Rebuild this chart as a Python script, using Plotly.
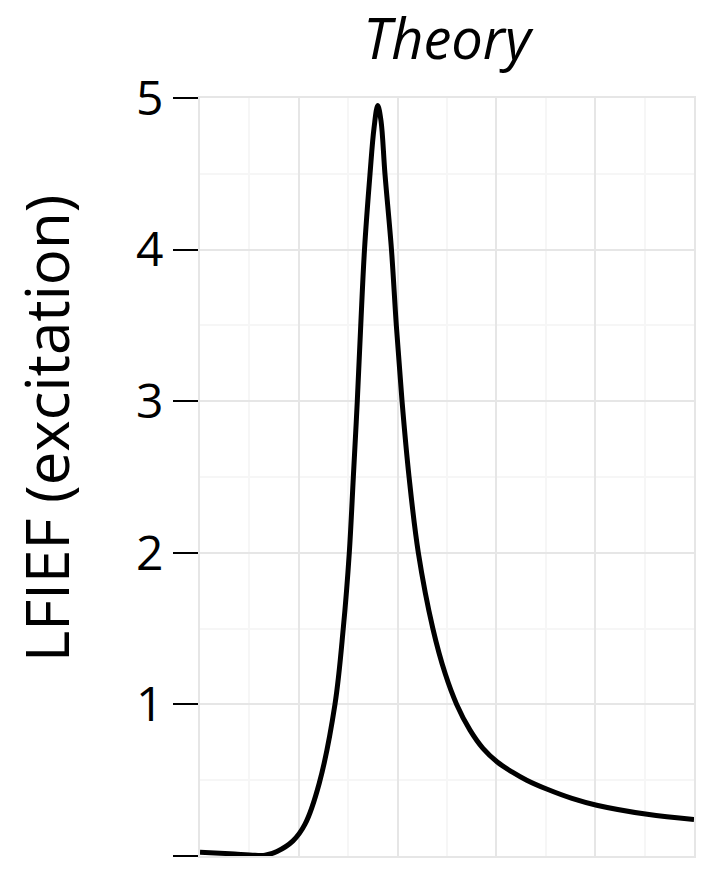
import plotly.graph_objects as go

# Wavelength grid (nm) and the theoretical local field intensity enhancement
wavelength_nm = [400, 430.4, 455.7, 465.8, 477.9, 494.1, 506.3, 520.7, 536.6,
                 545.0, 551.1, 555.2, 559.2, 562.7, 566.5, 572.1, 576.1, 579.9,
                 583.2, 587.2, 593.8, 598.7, 604.5, 611.6, 621.0, 635.7, 648.3,
                 659.8, 673.3, 686.4, 700.9, 715.8, 730.7, 751.5, 776.5, 801.5,
                 852.7, 900]
lfief = [0.025, 0.015, 0.005, 0.005, 0.03, 0.10, 0.21, 0.48, 1.0,
         1.5, 2.0, 2.5, 3.0, 3.5, 4.0, 4.5, 4.8, 4.95,
         4.85, 4.5, 4.0, 3.5, 3.0, 2.5, 2.0, 1.5, 1.2,
         1.0, 0.83, 0.71, 0.62, 0.555, 0.5, 0.44, 0.38, 0.335,
         0.275, 0.24]

y_ticks = [0, 1, 2, 3, 4, 5]
y_tick_labels = ["0", "1", "2", "3", "4", "5"]

FONT = "Open Sans"
MAJOR = "#e6e6e6"
MINOR = "#f6f6f6"

fig = go.Figure(
    go.Scatter(
        x=wavelength_nm,
        y=lfief,
        mode="lines",
        line=dict(color="black", width=5, shape="spline", smoothing=1.0),
        hoverinfo="skip",
    )
)

fig.update_layout(
    width=727,
    height=878,
    margin=dict(l=200, r=33, t=98, b=22),
    paper_bgcolor="white",
    plot_bgcolor="white",
    showlegend=False,
    title=dict(
        text="<i>Theory</i>",
        x=(200 + 694) / 2 / 727,
        xanchor="center",
        y=1 - 39 / 878,
        yanchor="middle",
        font=dict(family=FONT, size=56, color="black"),
    ),
    annotations=[
        dict(
            text="LFIEF (excitation)",
            textangle=-90,
            xref="paper", yref="paper",
            x=(46 - 200) / 494, y=(856 - 429) / 758,
            xanchor="center", yanchor="middle",
            showarrow=False,
            font=dict(family=FONT, size=60, color="black"),
        )
    ],
)

fig.update_xaxes(
    range=[400, 900],
    dtick=100,
    showticklabels=False,
    ticks="",
    showgrid=True,
    gridcolor=MAJOR,
    gridwidth=2,
    minor=dict(showgrid=True, dtick=50, gridcolor=MINOR, gridwidth=2),
    showline=True,
    mirror=True,
    linecolor=MAJOR,
    linewidth=2,
    zeroline=False,
)

fig.update_yaxes(
    range=[0, 5],
    tickvals=y_ticks,
    ticktext=y_tick_labels,
    ticks="outside",
    ticklen=25,
    tickwidth=2,
    tickcolor="black",
    tickfont=dict(family=FONT, size=48, color="black"),
    showgrid=True,
    gridcolor=MAJOR,
    gridwidth=2,
    minor=dict(showgrid=True, dtick=0.5, gridcolor=MINOR, gridwidth=2),
    showline=True,
    mirror=True,
    linecolor=MAJOR,
    linewidth=2,
    zeroline=False,
)

fig.write_html("out.html")
